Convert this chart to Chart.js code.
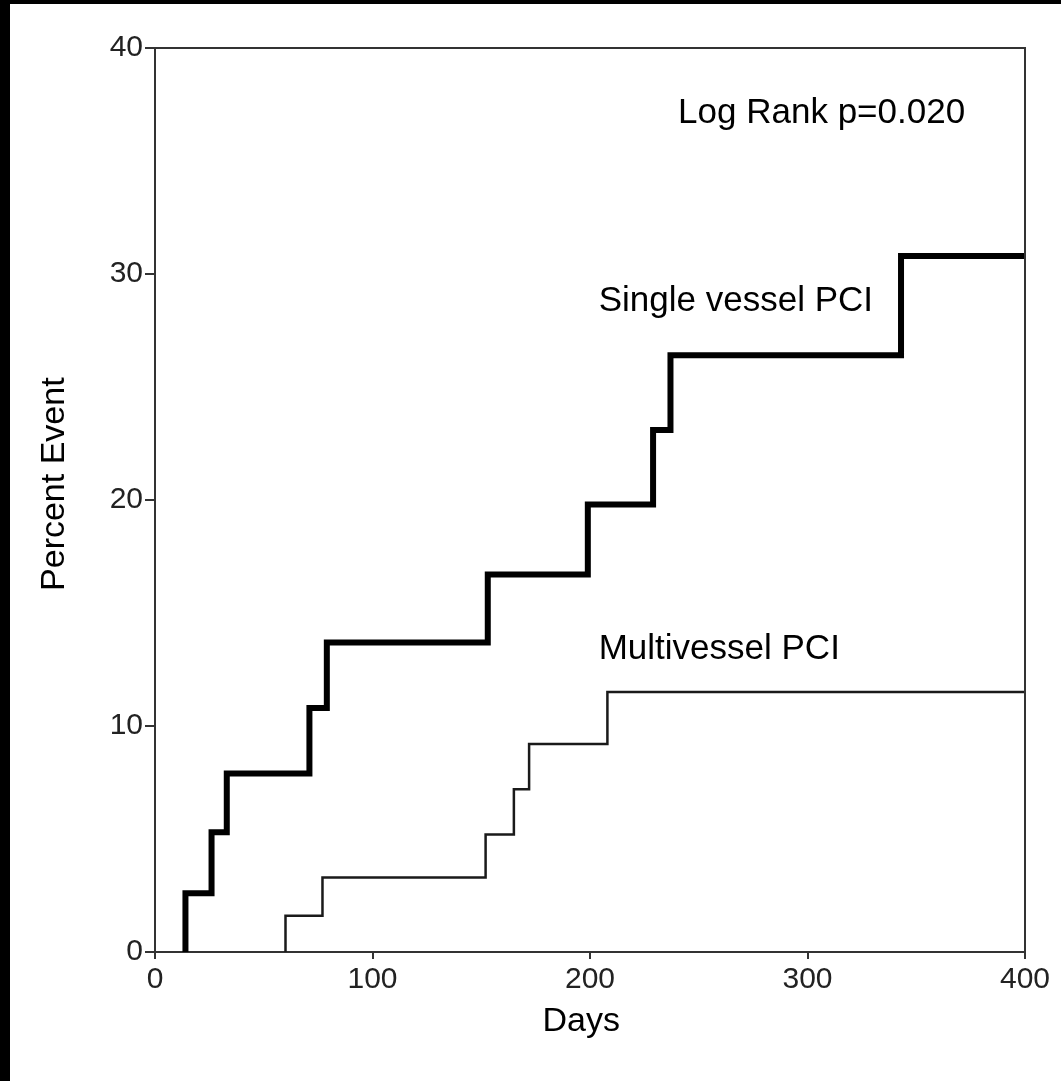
<!DOCTYPE html>
<html>
<head>
<meta charset="utf-8">
<script src="https://cdn.jsdelivr.net/npm/chart.js@4/dist/chart.umd.min.js"></script>
<style>
  html, body { margin: 0; padding: 0; background: #000; }
  body { width: 1061px; height: 1081px; overflow: hidden; position: relative; }
  #wrap { position: absolute; left: 10px; top: 4px; width: 1051px; height: 1077px; background: #fff; }
</style>
</head>
<body>
<div id="wrap"><canvas id="km" width="1051" height="1077"></canvas></div>
<script>
// Kaplan-Meier style cumulative event curves (days, percent)
const singleDays = [14, 14, 26, 33, 71, 79, 153, 199, 229, 237, 343, 400]
const singlePct = [0, 2.6, 5.3, 7.9, 10.8, 13.7, 16.7, 19.8, 23.1, 26.4, 30.8, 30.8]
const multiDays = [60, 60, 77, 152, 165, 172, 208, 400]
const multiPct = [0, 1.6, 3.3, 5.2, 7.2, 9.2, 11.5, 11.5]

const xTicks = [0, 100, 200, 300, 400]
const yTicks = [0, 10, 20, 30, 40]

const FONT = "'Liberation Sans', Arial, sans-serif"
const AXIS = '#333'

function toPoints (xs, ys) {
  return xs.map((x, i) => ({ x: x, y: ys[i] }))
}

// frame box, curve labels and axis titles
const annotate = {
  id: 'annotate',
  afterDraw: chart => {
    const ctx = chart.ctx
    const { left, right, top, bottom } = chart.chartArea
    const xs = chart.scales.x
    const ys = chart.scales.y
    ctx.save()
    ctx.strokeStyle = AXIS
    ctx.lineWidth = 2
    ctx.beginPath()
    ctx.moveTo(left, top)
    ctx.lineTo(right, top)
    ctx.lineTo(right, bottom)
    ctx.stroke()

    ctx.fillStyle = '#000'
    ctx.font = '35px ' + FONT
    ctx.textBaseline = 'middle'
    ctx.textAlign = 'left'
    ctx.fillText('Log Rank p=0.020', xs.getPixelForValue(240.5), ys.getPixelForValue(37.1))
    ctx.fillText('Single vessel PCI', xs.getPixelForValue(204), ys.getPixelForValue(28.8))
    ctx.fillText('Multivessel PCI', xs.getPixelForValue(204), ys.getPixelForValue(13.4))

    ctx.font = '34px ' + FONT
    ctx.textAlign = 'center'
    ctx.fillText('Days', xs.getPixelForValue(196), bottom + 70)

    ctx.translate(45, ys.getPixelForValue(20.7))
    ctx.rotate(-Math.PI / 2)
    ctx.fillText('Percent Event', 0, 0)
    ctx.restore()
  }
}

const config = {
  type: 'line',
  data: {
    datasets: [
      {
        label: 'Single vessel PCI',
        data: toPoints(singleDays, singlePct),
        borderColor: '#000',
        borderWidth: 6,
        stepped: true,
        pointRadius: 0,
        fill: false,
        borderJoinStyle: 'miter'
      },
      {
        label: 'Multivessel PCI',
        data: toPoints(multiDays, multiPct),
        borderColor: '#1a1a1a',
        borderWidth: 2.5,
        stepped: true,
        pointRadius: 0,
        fill: false,
        borderJoinStyle: 'miter'
      }
    ]
  },
  plugins: [annotate],
  options: {
    responsive: false,
    animation: false,
    devicePixelRatio: 1,
    layout: { padding: { left: 0, top: 44, right: 36, bottom: 0 } },
    plugins: {
      legend: { display: false },
      tooltip: { enabled: false }
    },
    scales: {
      x: {
        type: 'linear',
        min: 0,
        max: 400,
        afterBuildTicks: s => { s.ticks = xTicks.map(v => ({ value: v })) },
        afterFit: s => { s.height = 129 },
        grid: { drawOnChartArea: false, tickLength: 7, color: AXIS, lineWidth: 2 },
        border: { color: AXIS, width: 2 },
        ticks: { color: '#222', padding: 3, font: { family: FONT, size: 30 }, maxRotation: 0 }
      },
      y: {
        min: 0,
        max: 40,
        afterBuildTicks: s => { s.ticks = yTicks.map(v => ({ value: v })) },
        afterFit: s => { s.width = 145 },
        grid: { drawOnChartArea: false, tickLength: 10, color: AXIS, lineWidth: 2 },
        border: { color: AXIS, width: 2 },
        ticks: { color: '#222', padding: 2, font: { family: FONT, size: 30 } }
      }
    }
  }
}

const chart = new Chart(document.getElementById('km'), config)
</script>
</body>
</html>
